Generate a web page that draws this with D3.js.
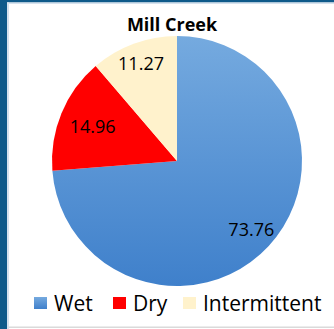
<!DOCTYPE html>
<html>
<head>
<meta charset="utf-8">
<script src="https://cdn.jsdelivr.net/npm/d3@7"></script>
<style>
  html, body { margin: 0; padding: 0; background: #fff; }
  svg { display: block; }
</style>
</head>
<body>
<svg id="chart" width="334" height="329"></svg>
<script>
// Stream condition shares for Mill Creek (percent of length)
const categories = ["Wet", "Dry", "Intermittent"];
const values = [73.76, 14.96, 11.27];
const title = "Mill Creek";

const colors = ["url(#wetFill)", "#FF0000", "#FFF2CC"];
const legendColors = ["url(#wetFill)", "#FF0000", "#FFF2CC"];
// radial placement of each value label, as a fraction of the radius
const labelRadius = [0.81, 0.73, 0.83];

const W = 334, H = 329;
const svg = d3.select("#chart");
const font = "'Open Sans', 'Liberation Sans', sans-serif";

// frame
svg.append("rect").attr("x", 0).attr("y", 0).attr("width", W).attr("height", H).attr("fill", "#fff");
svg.append("rect").attr("x", 0).attr("y", 0).attr("width", W).attr("height", 2.5).attr("fill", "#0F5A8A");
svg.append("rect").attr("x", 0).attr("y", 0).attr("width", 7).attr("height", H).attr("fill", "#0F5A8A");
svg.append("rect").attr("x", 7).attr("y", 2.5).attr("width", 2).attr("height", H).attr("fill", "#D6E2EE");
svg.append("rect").attr("x", 7).attr("y", 2.5).attr("width", W).attr("height", 1.5).attr("fill", "#D6E2EE");
svg.append("rect").attr("x", 9).attr("y", 326.5).attr("width", W).attr("height", 1.5).attr("fill", "#DADADA");

const defs = svg.append("defs");
const grad = defs.append("linearGradient").attr("id", "wetFill")
  .attr("x1", 0).attr("y1", 0).attr("x2", 0).attr("y2", 1);
grad.append("stop").attr("offset", "0%").attr("stop-color", "#75AADF");
grad.append("stop").attr("offset", "100%").attr("stop-color", "#3F80CB");

// title
svg.append("text")
  .attr("x", 172).attr("y", 31)
  .attr("text-anchor", "middle")
  .attr("font-family", font)
  .attr("font-weight", "bold")
  .attr("font-size", 18)
  .attr("fill", "#000")
  .text(title);

// pie
const cx = 177, cy = 161, R = 125;
const pie = d3.pie().sort(null).value(d => d)(values);
const arc = d3.arc().innerRadius(0).outerRadius(R);
const g = svg.append("g").attr("transform", `translate(${cx},${cy})`);

g.selectAll("path.slice")
  .data(pie)
  .join("path")
  .attr("class", "slice")
  .attr("d", arc)
  .attr("fill", (d, i) => colors[i]);

g.selectAll("text.val")
  .data(pie)
  .join("text")
  .attr("class", "val")
  .attr("transform", (d, i) => {
    const a = d3.arc().innerRadius(R * labelRadius[i]).outerRadius(R * labelRadius[i]);
    return `translate(${a.centroid(d)})`;
  })
  .attr("text-anchor", "middle")
  .attr("dy", "0.36em")
  .attr("font-family", font)
  .attr("font-size", 18)
  .attr("fill", "#000")
  .text(d => d3.format(".2f")(d.data));

// legend
const legendX = [34, 113, 183];
const lg = svg.append("g").attr("transform", "translate(0,303)");
const items = lg.selectAll("g.item")
  .data(categories)
  .join("g")
  .attr("class", "item")
  .attr("transform", (d, i) => `translate(${legendX[i]},0)`);
items.append("rect")
  .attr("x", 0).attr("y", -6)
  .attr("width", 13).attr("height", 12)
  .attr("fill", (d, i) => legendColors[i]);
items.append("text")
  .attr("x", 20).attr("y", 0)
  .attr("dy", "0.36em")
  .attr("font-family", font)
  .attr("font-size", 21)
  .attr("fill", "#000")
  .text(d => d);
</script>
</body>
</html>
